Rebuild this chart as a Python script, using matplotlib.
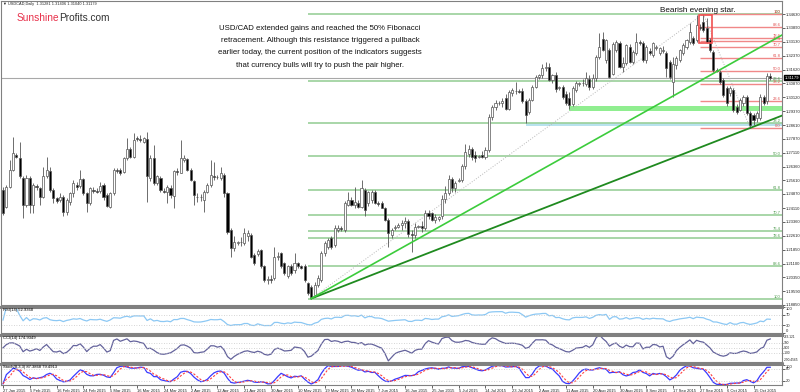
import numpy as np
import pandas as pd
import matplotlib
matplotlib.use('Agg')
import matplotlib.pyplot as plt
from matplotlib.patches import Rectangle

plt.rcParams['font.family'] = ['Liberation Sans', 'DejaVu Sans']

# USDCAD daily candles, 27 Jan 2015 - 21 Oct 2015
opens = [
    1.2509, 1.2419, 1.2527, 1.2618, 1.2699, 1.2681, 1.2573, 1.2428, 1.2573, 1.2428,
    1.2531, 1.2518, 1.2473, 1.2582, 1.2609, 1.2509, 1.2464, 1.2455, 1.2473, 1.2392,
    1.2446, 1.2491, 1.2536, 1.2531, 1.2567, 1.2491, 1.2437, 1.2509, 1.2503, 1.2503,
    1.2536, 1.2482, 1.2419, 1.2491, 1.2618, 1.2618, 1.2605, 1.2681, 1.2730, 1.2690,
    1.2789, 1.2785, 1.2771, 1.2786, 1.2573, 1.2681, 1.2545, 1.2573, 1.2505, 1.2500,
    1.2522, 1.2477, 1.2609, 1.2603, 1.2672, 1.2676, 1.2618, 1.2558, 1.2473, 1.2470,
    1.2455, 1.2500, 1.2536, 1.2586, 1.2578, 1.2573, 1.2591, 1.2491, 1.2292, 1.2193,
    1.2222, 1.2225, 1.2220, 1.2260, 1.2265, 1.2157, 1.2160, 1.2184, 1.2094, 1.2021,
    1.2025, 1.2030, 1.2148, 1.2166, 1.2112, 1.2040, 1.2094, 1.2076, 1.2112, 1.2094,
    1.2094, 1.2003, 1.1985, 1.1940, 1.1994, 1.2021, 1.2166, 1.2202, 1.2247, 1.2211,
    1.2292, 1.2300, 1.2292, 1.2428, 1.2455, 1.2428, 1.2440, 1.2419, 1.2509, 1.2437,
    1.2455, 1.2500, 1.2437, 1.2437, 1.2410, 1.2347, 1.2265, 1.2300, 1.2310, 1.2318,
    1.2330, 1.2340, 1.2270, 1.2265, 1.2310, 1.2312, 1.2300, 1.2382, 1.2385, 1.2346,
    1.2350, 1.2370, 1.2460, 1.2490, 1.2570, 1.2520, 1.2560, 1.2565, 1.2640, 1.2705,
    1.2733, 1.2700, 1.2690, 1.2700, 1.2690, 1.2725, 1.2906, 1.2960, 1.2980, 1.2982,
    1.3005, 1.2950, 1.3035, 1.3045, 1.3045, 1.3045, 1.2990, 1.2930, 1.2997, 1.3069,
    1.3120, 1.3130, 1.3170, 1.3178, 1.3105, 1.3130, 1.3060, 1.3065, 1.3030, 1.3010,
    1.2975, 1.3050, 1.3085, 1.3087, 1.3085, 1.3110, 1.3065, 1.3115, 1.3232, 1.3330,
    1.3214, 1.3268, 1.3140, 1.3268, 1.3304, 1.3178, 1.3196, 1.3286, 1.3205, 1.3250,
    1.3310, 1.3304, 1.3214, 1.3260, 1.3241, 1.3280, 1.3250, 1.3260, 1.3250, 1.3205,
    1.3095, 1.3185, 1.3214, 1.3250, 1.3286, 1.3313, 1.3331, 1.3322, 1.3395, 1.3421,
    1.3385, 1.3322, 1.3259, 1.3160, 1.3150, 1.3105, 1.3060, 1.3033, 1.3051, 1.2961,
    1.2943, 1.2979, 1.3015, 1.2925, 1.2915, 1.2897, 1.2897, 1.3015, 1.2990, 1.31281]
highs = [
    1.2527, 1.2536, 1.2672, 1.2795, 1.2708, 1.2771, 1.2582, 1.2591, 1.2582, 1.2545,
    1.2542, 1.2527, 1.2636, 1.2690, 1.2636, 1.2518, 1.2473, 1.2491, 1.2482, 1.2464,
    1.2500, 1.2564, 1.2554, 1.2618, 1.2573, 1.2500, 1.2527, 1.2527, 1.2518, 1.2554,
    1.2545, 1.2491, 1.2500, 1.2627, 1.2627, 1.2627, 1.2690, 1.2789, 1.2744, 1.2820,
    1.2800, 1.2805, 1.2798, 1.2825, 1.2700, 1.2753, 1.2590, 1.2582, 1.2518, 1.2536,
    1.2536, 1.2618, 1.2627, 1.2780, 1.2699, 1.2681, 1.2627, 1.2564, 1.2491, 1.2485,
    1.2509, 1.2545, 1.2672, 1.2663, 1.2590, 1.2636, 1.2600, 1.2500, 1.2300, 1.2260,
    1.2232, 1.2256, 1.2305, 1.2292, 1.2274, 1.2166, 1.2190, 1.2190, 1.2100, 1.2040,
    1.2050, 1.2202, 1.2170, 1.2175, 1.2120, 1.2100, 1.2110, 1.2166, 1.2120, 1.2100,
    1.2110, 1.2010, 1.1995, 1.2010, 1.2050, 1.2180, 1.2230, 1.2250, 1.2260, 1.2320,
    1.2320, 1.2315, 1.2450, 1.2500, 1.2470, 1.2527, 1.2455, 1.2564, 1.2520, 1.2505,
    1.2510, 1.2510, 1.2450, 1.2450, 1.2415, 1.2355, 1.2300, 1.2320, 1.2330, 1.2345,
    1.2360, 1.2350, 1.2290, 1.2330, 1.2320, 1.2340, 1.2400, 1.2400, 1.2392, 1.2380,
    1.2370, 1.2480, 1.2530, 1.2590, 1.2580, 1.2560, 1.2575, 1.2650, 1.2760, 1.2750,
    1.2740, 1.2720, 1.2700, 1.2720, 1.2740, 1.2920, 1.2970, 1.2995, 1.2990, 1.3010,
    1.3030, 1.3050, 1.3060, 1.3095, 1.3055, 1.3060, 1.3000, 1.3010, 1.3080, 1.3130,
    1.3140, 1.3190, 1.3205, 1.3195, 1.3140, 1.3150, 1.3070, 1.3080, 1.3045, 1.3040,
    1.3070, 1.3100, 1.3095, 1.3110, 1.3150, 1.3130, 1.3140, 1.3240, 1.3358, 1.3365,
    1.3330, 1.3280, 1.3310, 1.3320, 1.3315, 1.3230, 1.3300, 1.3300, 1.3270, 1.3358,
    1.3320, 1.3315, 1.3295, 1.3280, 1.3310, 1.3295, 1.3285, 1.3290, 1.3260, 1.3215,
    1.3232, 1.3235, 1.3275, 1.3305, 1.3330, 1.3413, 1.3345, 1.3458, 1.3410, 1.3463,
    1.3440, 1.3335, 1.3270, 1.3170, 1.3160, 1.3115, 1.3075, 1.3070, 1.3060, 1.2975,
    1.3005, 1.3024, 1.3024, 1.2935, 1.2925, 1.2935, 1.3030, 1.3024, 1.3145, 1.31406]
lows = [
    1.2374, 1.2410, 1.2518, 1.2609, 1.2681, 1.2573, 1.2356, 1.2419, 1.2383, 1.2383,
    1.2509, 1.2428, 1.2464, 1.2573, 1.2500, 1.2437, 1.2437, 1.2446, 1.2365, 1.2374,
    1.2428, 1.2473, 1.2509, 1.2518, 1.2482, 1.2392, 1.2428, 1.2491, 1.2491, 1.2491,
    1.2455, 1.2419, 1.2410, 1.2482, 1.2600, 1.2591, 1.2600, 1.2672, 1.2681, 1.2681,
    1.2775, 1.2770, 1.2762, 1.2446, 1.2555, 1.2536, 1.2536, 1.2500, 1.2491, 1.2437,
    1.2464, 1.2410, 1.2591, 1.2600, 1.2663, 1.2609, 1.2555, 1.2428, 1.2446, 1.2450,
    1.2392, 1.2491, 1.2527, 1.2564, 1.2570, 1.2564, 1.2473, 1.2270, 1.2148, 1.2180,
    1.2212, 1.2205, 1.2210, 1.2230, 1.2140, 1.2100, 1.2150, 1.2085, 1.2010, 1.2000,
    1.2005, 1.2020, 1.2130, 1.2085, 1.2050, 1.2030, 1.2050, 1.2060, 1.2085, 1.2080,
    1.2010, 1.1940, 1.1920, 1.1930, 1.1985, 1.2010, 1.2150, 1.2190, 1.2190, 1.2200,
    1.2280, 1.2285, 1.2280, 1.2420, 1.2420, 1.2410, 1.2410, 1.2410, 1.2365, 1.2420,
    1.2440, 1.2430, 1.2420, 1.2410, 1.2340, 1.2202, 1.2250, 1.2290, 1.2300, 1.2290,
    1.2300, 1.2255, 1.2170, 1.2250, 1.2300, 1.2280, 1.2290, 1.2350, 1.2340, 1.2330,
    1.2340, 1.2350, 1.2440, 1.2480, 1.2500, 1.2500, 1.2550, 1.2550, 1.2620, 1.2690,
    1.2670, 1.2660, 1.2680, 1.2680, 1.2675, 1.2715, 1.2890, 1.2940, 1.2970, 1.2960,
    1.2940, 1.2940, 1.3020, 1.3030, 1.3035, 1.2980, 1.2870, 1.2920, 1.2990, 1.3060,
    1.3110, 1.3115, 1.3155, 1.3100, 1.3090, 1.3040, 1.3050, 1.3000, 1.2970, 1.2950,
    1.2965, 1.3040, 1.3075, 1.3070, 1.3075, 1.3050, 1.3055, 1.3100, 1.3220, 1.3260,
    1.3200, 1.3115, 1.3130, 1.3255, 1.3170, 1.3150, 1.3185, 1.3200, 1.3190, 1.3240,
    1.3295, 1.3205, 1.3200, 1.3240, 1.3230, 1.3270, 1.3240, 1.3250, 1.3123, 1.3110,
    1.3015, 1.3165, 1.3205, 1.3240, 1.3275, 1.3300, 1.3295, 1.3310, 1.3375, 1.3365,
    1.3305, 1.3255, 1.3150, 1.3150, 1.3085, 1.3015, 1.2965, 1.3020, 1.2930, 1.2920,
    1.2935, 1.2965, 1.2915, 1.2845, 1.2860, 1.2880, 1.2890, 1.2970, 1.2975, 1.31040]
closes = [
    1.2383, 1.2527, 1.2618, 1.2708, 1.2690, 1.2582, 1.2428, 1.2573, 1.2428, 1.2536,
    1.2524, 1.2473, 1.2582, 1.2618, 1.2509, 1.2464, 1.2451, 1.2473, 1.2392, 1.2455,
    1.2491, 1.2545, 1.2527, 1.2567, 1.2491, 1.2437, 1.2518, 1.2505, 1.2500, 1.2531,
    1.2473, 1.2424, 1.2491, 1.2618, 1.2614, 1.2600, 1.2681, 1.2730, 1.2690, 1.2780,
    1.2785, 1.2780, 1.2789, 1.2582, 1.2681, 1.2545, 1.2582, 1.2509, 1.2500, 1.2527,
    1.2482, 1.2609, 1.2605, 1.2681, 1.2681, 1.2618, 1.2564, 1.2482, 1.2470, 1.2473,
    1.2500, 1.2536, 1.2591, 1.2578, 1.2580, 1.2600, 1.2491, 1.2283, 1.2193, 1.2225,
    1.2225, 1.2229, 1.2274, 1.2274, 1.2148, 1.2112, 1.2180, 1.2094, 1.2021, 1.2025,
    1.2021, 1.2148, 1.2150, 1.2094, 1.2058, 1.2094, 1.2060, 1.2112, 1.2094, 1.2088,
    1.2021, 1.1949, 1.1931, 1.1994, 1.2030, 1.2166, 1.2220, 1.2238, 1.2202, 1.2301,
    1.2305, 1.2295, 1.2437, 1.2455, 1.2428, 1.2446, 1.2419, 1.2518, 1.2401, 1.2500,
    1.2500, 1.2437, 1.2433, 1.2410, 1.2347, 1.2274, 1.2292, 1.2310, 1.2318, 1.2330,
    1.2340, 1.2270, 1.2265, 1.2310, 1.2312, 1.2300, 1.2382, 1.2370, 1.2346, 1.2360,
    1.2360, 1.2460, 1.2490, 1.2570, 1.2520, 1.2545, 1.2565, 1.2640, 1.2714, 1.2733,
    1.2689, 1.2680, 1.2693, 1.2690, 1.2725, 1.2906, 1.2960, 1.2980, 1.2982, 1.2990,
    1.2950, 1.3040, 1.3050, 1.3045, 1.3040, 1.2990, 1.2915, 1.2997, 1.3069, 1.3120,
    1.3130, 1.3170, 1.3175, 1.3105, 1.3130, 1.3055, 1.3065, 1.3015, 1.2980, 1.2970,
    1.3060, 1.3090, 1.3087, 1.3090, 1.3115, 1.3065, 1.3115, 1.3232, 1.3286, 1.3270,
    1.3322, 1.3123, 1.3300, 1.3313, 1.3178, 1.3200, 1.3295, 1.3205, 1.3259, 1.3313,
    1.3304, 1.3214, 1.3286, 1.3250, 1.3304, 1.3282, 1.3277, 1.3270, 1.3169, 1.3123,
    1.3190, 1.3223, 1.3268, 1.3295, 1.3322, 1.3367, 1.3304, 1.3403, 1.3385, 1.3376,
    1.3313, 1.3268, 1.3160, 1.3155, 1.3096, 1.3024, 1.2979, 1.3060, 1.2943, 1.2934,
    1.2997, 1.3015, 1.2925, 1.2861, 1.2889, 1.2925, 1.3015, 1.2979, 1.3128, 1.31179]

date_labels = ['27 Jan 2015', '5 Feb 2015', '16 Feb 2015', '24 Feb 2015', '5 Mar 2015',
               '16 Mar 2015', '24 Mar 2015', '2 Apr 2015', '12 Apr 2015', '21 Apr 2015',
               '30 Apr 2015', '10 May 2015', '19 May 2015', '28 May 2015', '7 Jun 2015',
               '16 Jun 2015', '25 Jun 2015', '5 Jul 2015', '14 Jul 2015', '23 Jul 2015',
               '2 Aug 2015', '11 Aug 2015', '20 Aug 2015', '30 Aug 2015', '8 Sep 2015',
               '17 Sep 2015', '27 Sep 2015', '6 Oct 2015', '15 Oct 2015']
price_ticks = [1.34630, 1.33890, 1.33130, 1.32370, 1.31620, 1.30870, 1.30120, 1.29370,
               1.28610, 1.27870, 1.27110, 1.26360, 1.25610, 1.24870, 1.24110, 1.23360,
               1.22610, 1.21850, 1.21100, 1.20350, 1.19590, 1.18850]

# swing points used for the fibonacci levels and trend lines (bar index, price)
may_low = (92, 1.1920)
sep_high = (209, 1.3463)
oct_low = (223, 1.2845)
bright_line_end = (232.5, 1.3349)
fib_ratios = [0.0, 0.236, 0.382, 0.5, 0.618, 0.707, 0.764, 0.786, 0.886, 1.0]
fib_names = ['0.0', '23.6', '38.2', '50.0', '61.8', '70.7', '76.4', '78.6', '88.6', '100']
green_zone = (169, 1.2935, 1.2965)
blue_zone = (156, 1.2853, 1.2874)
star_box = (207.6, 211.6, 1.3306, 1.3458)

W, H = 800.0, 392.0
XMIN, XMAX = -0.6, 232.5
TINY = 3.0


def fig_box(x0, y0, x1, y1):
    return [x0 / W, 1 - y1 / H, (x1 - x0) / W, (y1 - y0) / H]


def style_axis(a, top_lw=0.8, size=TINY):
    a.set_xlim(XMIN, XMAX)
    a.yaxis.tick_right()
    a.tick_params(axis='both', labelsize=size, length=2, width=0.5, pad=1, colors='#222222')
    for s in a.spines.values():
        s.set_color('#808080')
        s.set_linewidth(0.8)
    a.spines['top'].set_linewidth(top_lw)


# keep the edge labels of a small panel inside it
def pin_edge_labels(a):
    labels = a.get_yticklabels()
    labels[0].set_va('top')
    labels[-1].set_va('bottom')


fig = plt.figure(figsize=(8, 3.92), dpi=100)
ax = fig.add_axes(fig_box(1, 1, 782, 305))
ax_rsi = fig.add_axes(fig_box(1, 307, 782, 333))
ax_cci = fig.add_axes(fig_box(1, 335, 782, 362))
ax_sto = fig.add_axes(fig_box(1, 364, 782, 385))

o = np.array(opens)
h = np.array(highs)
l = np.array(lows)
c = np.array(closes)
x = np.arange(len(c))

# candles
up = c >= o
ax.vlines(x, l, h, color='#555555', lw=0.6, zorder=4)
ax.bar(x, c - o, bottom=o, width=0.62, color=np.where(up, 'white', 'black'),
       edgecolor='#555555', linewidth=0.5, zorder=5)

# fibonacci retracements
rng = sep_high[1] - may_low[1]
for r, name in zip(fib_ratios, fib_names):
    lvl = sep_high[1] - r * rng
    ax.hlines(lvl, may_low[0] - 1, XMAX, color='#9ad09a', lw=1.2, zorder=2)
    ax.text(XMAX - 0.4, lvl, name, ha='right', va='bottom', fontsize=TINY, color='#4c9a4c', zorder=6)
rng2 = sep_high[1] - oct_low[1]
for r, name in zip(fib_ratios, fib_names):
    lvl = oct_low[1] + r * rng2
    ax.hlines(lvl, sep_high[0] - 1, XMAX, color='#f08888', lw=1.0, zorder=2)
    ax.text(XMAX - 0.4, lvl, name, ha='right', va='bottom', fontsize=TINY, color='#e05050', zorder=6)

# support zones and the evening star box
ax.add_patch(Rectangle((green_zone[0], green_zone[1]), XMAX - green_zone[0],
                       green_zone[2] - green_zone[1], color='#90ee90', lw=0, zorder=3))
ax.add_patch(Rectangle((blue_zone[0], blue_zone[1]), XMAX - blue_zone[0],
                       blue_zone[2] - blue_zone[1], color='#b8e2ee', lw=0, zorder=1))
ax.add_patch(Rectangle((star_box[0], star_box[2]), star_box[1] - star_box[0],
                       star_box[3] - star_box[2], fill=False, edgecolor='#f05050', lw=1.2, zorder=6))

# trend lines
slope = (oct_low[1] - may_low[1]) / (oct_low[0] - may_low[0])
ax.plot([may_low[0], XMAX], [may_low[1], may_low[1] + slope * (XMAX - may_low[0])],
        color='#1f8a1f', lw=1.3, zorder=7)
ax.plot([may_low[0], bright_line_end[0]], [may_low[1], bright_line_end[1]],
        color='#3ccc3c', lw=1.2, zorder=7)
ax.plot([may_low[0], sep_high[0]], [may_low[1], sep_high[1]], color='#b8b8b8', lw=0.7, ls=':', zorder=3)
ax.plot([sep_high[0], oct_low[0]], [sep_high[1], oct_low[1]], color='#b8b8b8', lw=0.7, ls=':', zorder=3)

# current price line and box
ax.axhline(c[-1], color='#a8a8a8', lw=0.8, zorder=2)
ax.annotate('%.5f' % c[-1], xy=(1.0, c[-1]), xycoords=('axes fraction', 'data'),
            xytext=(2, 0), textcoords='offset points', fontsize=TINY, color='white',
            va='center', ha='left', bbox=dict(boxstyle='square,pad=0.15', fc='black', ec='black'))

style_axis(ax)
ax.set_ylim(1.18858, 1.35335)
ax.set_yticks(price_ticks)
ax.set_yticklabels(['%.5f' % p for p in price_ticks])
ax.set_xticks([])

# indicators
cs = pd.Series(c)
hs = pd.Series(h)
ls_ = pd.Series(l)
delta = cs.diff().fillna(0)
gain = delta.clip(lower=0).ewm(alpha=1 / 14, adjust=True).mean()
loss = (-delta.clip(upper=0)).ewm(alpha=1 / 14, adjust=True).mean()
rsi = (100 - 100 / (1 + gain / loss)).replace([np.inf, -np.inf], np.nan).fillna(50)

tp = (hs + ls_ + cs) / 3
sma = tp.rolling(14, min_periods=1).mean()
mad = tp.rolling(14, min_periods=1).apply(lambda v: np.mean(np.abs(v - v.mean())), raw=True)
cci = ((tp - sma) / (0.015 * mad)).replace([np.inf, -np.inf], np.nan).fillna(0)

ll = ls_.rolling(8, min_periods=1).min()
hh = hs.rolling(8, min_periods=1).max()
k = 100 * (cs - ll).rolling(3, min_periods=1).sum() / (hh - ll).rolling(3, min_periods=1).sum()
d = k.rolling(3, min_periods=1).mean()

ax_rsi.plot(x, rsi, color='#8cc8f4', lw=0.9)
for lv in (30, 70):
    ax_rsi.axhline(lv, color='#c8c8c8', lw=0.6, ls=(0, (1, 2)))
style_axis(ax_rsi, top_lw=2.2)
ax_rsi.set_ylim(0, 100)
ax_rsi.set_yticks([100, 70, 30, 0])
ax_rsi.set_yticklabels(['100', '70', '30', '0'])
pin_edge_labels(ax_rsi)
ax_rsi.set_xticks([])
ax_rsi.text(0.003, 0.95, 'RSI(14) 52.9368', transform=ax_rsi.transAxes, fontsize=TINY, va='top')

ax_cci.plot(x, cci, color='#64639c', lw=0.9)
for lv in (100, 0, -100):
    ax_cci.axhline(lv, color='#c8c8c8', lw=0.6, ls=(0, (1, 2)))
style_axis(ax_cci, top_lw=2.2, size=2.3)
ax_cci.set_ylim(-290.4565, 263.121)
ax_cci.set_yticks([263.121, 100, 0, -100, -290.4565])
ax_cci.set_yticklabels(['263.121', '100', '0.00', '-100', '-290.4565'])
ax_cci.tick_params(axis='y', pad=0.3, length=1)
pin_edge_labels(ax_cci)
ax_cci.set_xticks([])
ax_cci.text(0.003, 0.95, 'CCI(14) 174.9349', transform=ax_cci.transAxes, fontsize=TINY, va='top')

ax_sto.plot(x, k, color='#3a3aff', lw=0.9)
ax_sto.plot(x, d, color='#ff4040', lw=0.8, ls=(0, (2, 1.5)))
for lv in (20, 80):
    ax_sto.axhline(lv, color='#c8c8c8', lw=0.6, ls=(0, (1, 2)))
style_axis(ax_sto, top_lw=2.2)
ax_sto.set_ylim(0, 104)
ax_sto.set_yticks([100, 80, 20])
ax_sto.set_yticklabels(['100', '80', '20'])
ax_sto.get_yticklabels()[0].set_va('top')
ax_sto.text(0.003, 0.95, 'Stoch(8,3,3) 87.3868 79.4913', transform=ax_sto.transAxes, fontsize=TINY, va='top')
ax_sto.set_xticks(range(0, 8 * len(date_labels), 8))
ax_sto.set_xticklabels(date_labels, ha='left')

# texts on the chart
fig.text(3 / W, 1 - 4 / H, '\u25bc USDCAD,Daily  1.31281 1.31406 1.31040 1.31179',
         fontsize=2.8, va='center', color='#222222')
t1 = fig.text(17 / W, 1 - 18 / H, 'Sunshine', fontsize=7.3, color='#e8304a', va='center')
fig.canvas.draw()
bb = t1.get_window_extent()
fig.text(bb.x1 / W, 1 - 18 / H, 'Profits.com', fontsize=7.3, color='#333333', va='center')

note = ['USD/CAD extended gains and reached the 50% Fibonacci',
        'retracement. Although this resistance triggered a pullback',
        'earlier today, the current position of the indicators suggests',
        'that currency bulls will try to push the pair higher.']
for i, line in enumerate(note):
    fig.text(320 / W, 1 - (28 + 12.4 * i) / H, line, fontsize=5.6, ha='center', va='center', color='#111111')
fig.text(698 / W, 1 - 10 / H, 'Bearish evening star.', fontsize=5.9, ha='center', va='center', color='#111111')

fig.savefig('out.png', dpi=100)
